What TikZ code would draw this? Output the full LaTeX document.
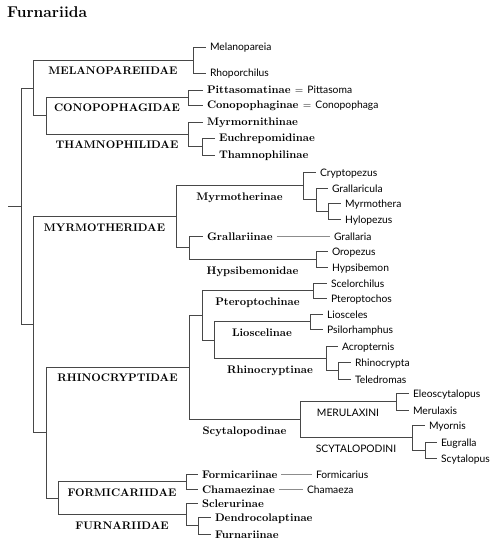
\documentclass[tikz,border=0pt]{standalone}
\usepackage{fontspec}
\setmainfont{Latin Modern Roman}
\newfontfamily\sansf{Lato}
\usetikzlibrary{calc}
\tikzset{
  br/.style={draw=black!72, line width=0.9pt},
  link/.style={draw=black!45, line width=0.6pt},
  leaf/.style={anchor=west, inner xsep=4pt, inner ysep=0pt, outer sep=0pt, text height=8pt, text depth=0pt, font=\sansf\fontsize{10.3}{12}\selectfont},
  taxon/.style={leaf, font=\bfseries\fontsize{11}{13}\selectfont},
  famlab/.style={anchor=base, yshift=-14.5pt, inner sep=0pt, font=\bfseries\fontsize{11}{13}\selectfont},
  sublab/.style={anchor=base, yshift=-15pt, inner sep=0pt, font=\bfseries\fontsize{11}{13}\selectfont},
  triblab/.style={anchor=base, yshift=-15pt, inner sep=0pt, font=\sansf\fontsize{10.3}{12}\selectfont},
}
\newcommand{\genus}[1]{{\sansf\mdseries\fontsize{10.3}{12}\selectfont #1}}
\begin{document}
\begin{tikzpicture}[x=1pt,y=-1pt]
\useasboundingbox (0,0) rectangle (500,548);
\node[anchor=base west, inner sep=0pt, font=\bfseries\fontsize{15.6}{19}\selectfont] (title) at (7,17.5) {Furnariida};

% internal nodes
\coordinate (stub) at (8,206.3);
\coordinate (R) at (21,206.3);
\coordinate (A) at (33,88);
\coordinate (MEL) at (193,60);
\coordinate (A2) at (46,115.75);
\coordinate (CON) at (188,97.5);
\coordinate (THA) at (188,134.25);
\coordinate (THA2) at (202,146.5);
\coordinate (B) at (33,324.7);
\coordinate (MYR) at (176,216.6);
\coordinate (MYRM) at (303,185.75);
\coordinate (G1) at (316,199.5);
\coordinate (G2) at (328,211);
\coordinate (GH) at (189,247.5);
\coordinate (HYP) at (316,259);
\coordinate (B2) at (46,432.7);
\coordinate (RHI) at (189,367.4);
\coordinate (P1) at (202,315.2);
\coordinate (PTE) at (313,290.5);
\coordinate (P2) at (214,340);
\coordinate (LIO) at (310,321.5);
\coordinate (RHC) at (326,358.2);
\coordinate (R2) at (338,370.5);
\coordinate (SCY) at (300,419.6);
\coordinate (MER) at (396,401.5);
\coordinate (SCO) at (412,437.5);
\coordinate (S2) at (425,450);
\coordinate (FF) at (58,498);
\coordinate (FOR) at (186,481.5);
\coordinate (FUR) at (186,514.5);
\coordinate (F2) at (198,525.5);

% leaves
\node[leaf] (melanopareia) at (206,47) {Melanopareia};
\node[leaf] (rhoporchilus) at (206,73) {Rhoporchilus};
\node[taxon] (pittasoma) at (203,90) {Pittasomatinae $=$ \genus{Pittasoma}};
\node[taxon] (conopophaga) at (203,105) {Conopophaginae $=$ \genus{Conopophaga}};
\node[taxon] (myrmornithinae) at (203,122) {Myrmornithinae};
\node[taxon] (euchrepomidinae) at (215,138) {Euchrepomidinae};
\node[taxon] (thamnophilinae) at (215,155) {Thamnophilinae};
\node[leaf] (cryptopezus) at (316,172) {Cryptopezus};
\node[leaf] (grallaricula) at (328,188) {Grallaricula};
\node[leaf] (myrmothera) at (341,203) {Myrmothera};
\node[leaf] (hylopezus) at (341,219) {Hylopezus};
\node[taxon] (grallariinae) at (203,236) {Grallariinae};
\node[leaf] (grallaria) at (330,236) {Grallaria};
\node[leaf] (oropezus) at (328,251) {Oropezus};
\node[leaf] (hypsibemon) at (328,267) {Hypsibemon};
\node[leaf] (scelorchilus) at (327,283) {Scelorchilus};
\node[leaf] (pteroptochos) at (327,298) {Pteroptochos};
\node[leaf] (liosceles) at (323,314) {Liosceles};
\node[leaf] (psilorhamphus) at (323,329) {Psilorhamphus};
\node[leaf] (acropternis) at (338,346) {Acropternis};
\node[leaf] (rhinocrypta) at (351,362) {Rhinocrypta};
\node[leaf] (teledromas) at (351,379) {Teledromas};
\node[leaf] (eleoscytalopus) at (409,393) {Eleoscytalopus};
\node[leaf] (merulaxis) at (409,410) {Merulaxis};
\node[leaf] (myornis) at (425,425) {Myornis};
\node[leaf] (eugralla) at (437,442) {Eugralla};
\node[leaf] (scytalopus) at (437,458) {Scytalopus};
\node[taxon] (formicariinae) at (198,474) {Formicariinae};
\node[taxon] (chamaezinae) at (198,489) {Chamaezinae};
\node[leaf] (formicarius) at (312,474) {Formicarius};
\node[leaf] (chamaeza) at (303,489) {Chamaeza};
\node[taxon] (sclerurinae) at (198,503) {Sclerurinae};
\node[taxon] (dendrocolaptinae) at (211,517) {Dendrocolaptinae};
\node[taxon] (furnariinae) at (211,534) {Furnariinae};

% branches
\draw[br] (stub) -- (R);
\draw[br] (R) |- (A); \draw[br] (R) |- (B);
\draw[br] (A) |- (MEL); \draw[br] (A) |- (A2);
\draw[br] (MEL) |- (melanopareia.west); \draw[br] (MEL) |- (rhoporchilus.west);
\draw[br] (A2) |- (CON); \draw[br] (A2) |- (THA);
\draw[br] (CON) |- (pittasoma.west); \draw[br] (CON) |- (conopophaga.west);
\draw[br] (THA) |- (myrmornithinae.west); \draw[br] (THA) |- (THA2);
\draw[br] (THA2) |- (euchrepomidinae.west); \draw[br] (THA2) |- (thamnophilinae.west);
\draw[br] (B) |- (MYR); \draw[br] (B) |- (B2);
\draw[br] (MYR) |- (MYRM); \draw[br] (MYR) |- (GH);
\draw[br] (MYRM) |- (cryptopezus.west); \draw[br] (MYRM) |- (G1);
\draw[br] (G1) |- (grallaricula.west); \draw[br] (G1) |- (G2);
\draw[br] (G2) |- (myrmothera.west); \draw[br] (G2) |- (hylopezus.west);
\draw[br] (GH) |- (grallariinae.west); \draw[br] (GH) |- (HYP);
\draw[br] (HYP) |- (oropezus.west); \draw[br] (HYP) |- (hypsibemon.west);
\draw[br] (B2) |- (RHI); \draw[br] (B2) |- (FF);
\draw[br] (RHI) |- (P1); \draw[br] (RHI) |- (SCY);
\draw[br] (P1) |- (PTE); \draw[br] (P1) |- (P2);
\draw[br] (PTE) |- (scelorchilus.west); \draw[br] (PTE) |- (pteroptochos.west);
\draw[br] (P2) |- (LIO); \draw[br] (P2) |- (RHC);
\draw[br] (LIO) |- (liosceles.west); \draw[br] (LIO) |- (psilorhamphus.west);
\draw[br] (RHC) |- (acropternis.west); \draw[br] (RHC) |- (R2);
\draw[br] (R2) |- (rhinocrypta.west); \draw[br] (R2) |- (teledromas.west);
\draw[br] (SCY) |- (MER); \draw[br] (SCY) |- (SCO);
\draw[br] (MER) |- (eleoscytalopus.west); \draw[br] (MER) |- (merulaxis.west);
\draw[br] (SCO) |- (myornis.west); \draw[br] (SCO) |- (S2);
\draw[br] (S2) |- (eugralla.west); \draw[br] (S2) |- (scytalopus.west);
\draw[br] (FF) |- (FOR); \draw[br] (FF) |- (FUR);
\draw[br] (FOR) |- (formicariinae.west); \draw[br] (FOR) |- (chamaezinae.west);
\draw[br] (FUR) |- (sclerurinae.west); \draw[br] (FUR) |- (F2);
\draw[br] (F2) |- (dendrocolaptinae.west); \draw[br] (F2) |- (furnariinae.west);

% links to single genera
\draw[link] (grallariinae.east) -- (grallaria.west);
\draw[link] (formicariinae.east) -- (formicarius.west);
\draw[link] (chamaezinae.east) -- (chamaeza.west);

% branch labels
\path ($(A |- MEL)!.5!(MEL)$) node[famlab] (lmel) {MELANOPAREIIDAE};
\path ($(A2 |- CON)!.5!(CON)$) node[famlab] (lcon) {CONOPOPHAGIDAE};
\path ($(A2 |- THA)!.5!(THA)$) node[famlab] (ltha) {THAMNOPHILIDAE};
\path ($(B |- MYR)!.5!(MYR)$) node[famlab] (lmyr) {MYRMOTHERIDAE};
\path ($(B2 |- RHI)!.5!(RHI)$) node[famlab] (lrhi) {RHINOCRYPTIDAE};
\path ($(FF |- FOR)!.5!(FOR)$) node[famlab] (lfor) {FORMICARIIDAE};
\path ($(FF |- FUR)!.5!(FUR)$) node[famlab] (lfur) {FURNARIIDAE};
\path ($(MYR |- MYRM)!.5!(MYRM)$) node[sublab] (lmyrm) {Myrmotherinae};
\path ($(GH |- HYP)!.5!(HYP)$) node[sublab] (lhyp) {Hypsibemonidae};
\path ($(P1 |- PTE)!.5!(PTE)$) node[sublab] (lpte) {Pteroptochinae};
\path ($(P2 |- LIO)!.5!(LIO)$) node[sublab] (llio) {Lioscelinae};
\path ($(P2 |- RHC)!.5!(RHC)$) node[sublab] (lrhc) {Rhinocryptinae};
\path ($(RHI |- SCY)!.5!(SCY)$) node[sublab] (lscy) {Scytalopodinae};
\path ($(SCY |- MER)!.5!(MER)$) node[triblab] (lmer) {MERULAXINI};
\path ($(SCY |- SCO)!.5!(SCO)$) node[triblab] (lsco) {SCYTALOPODINI};
\end{tikzpicture}
\end{document}
